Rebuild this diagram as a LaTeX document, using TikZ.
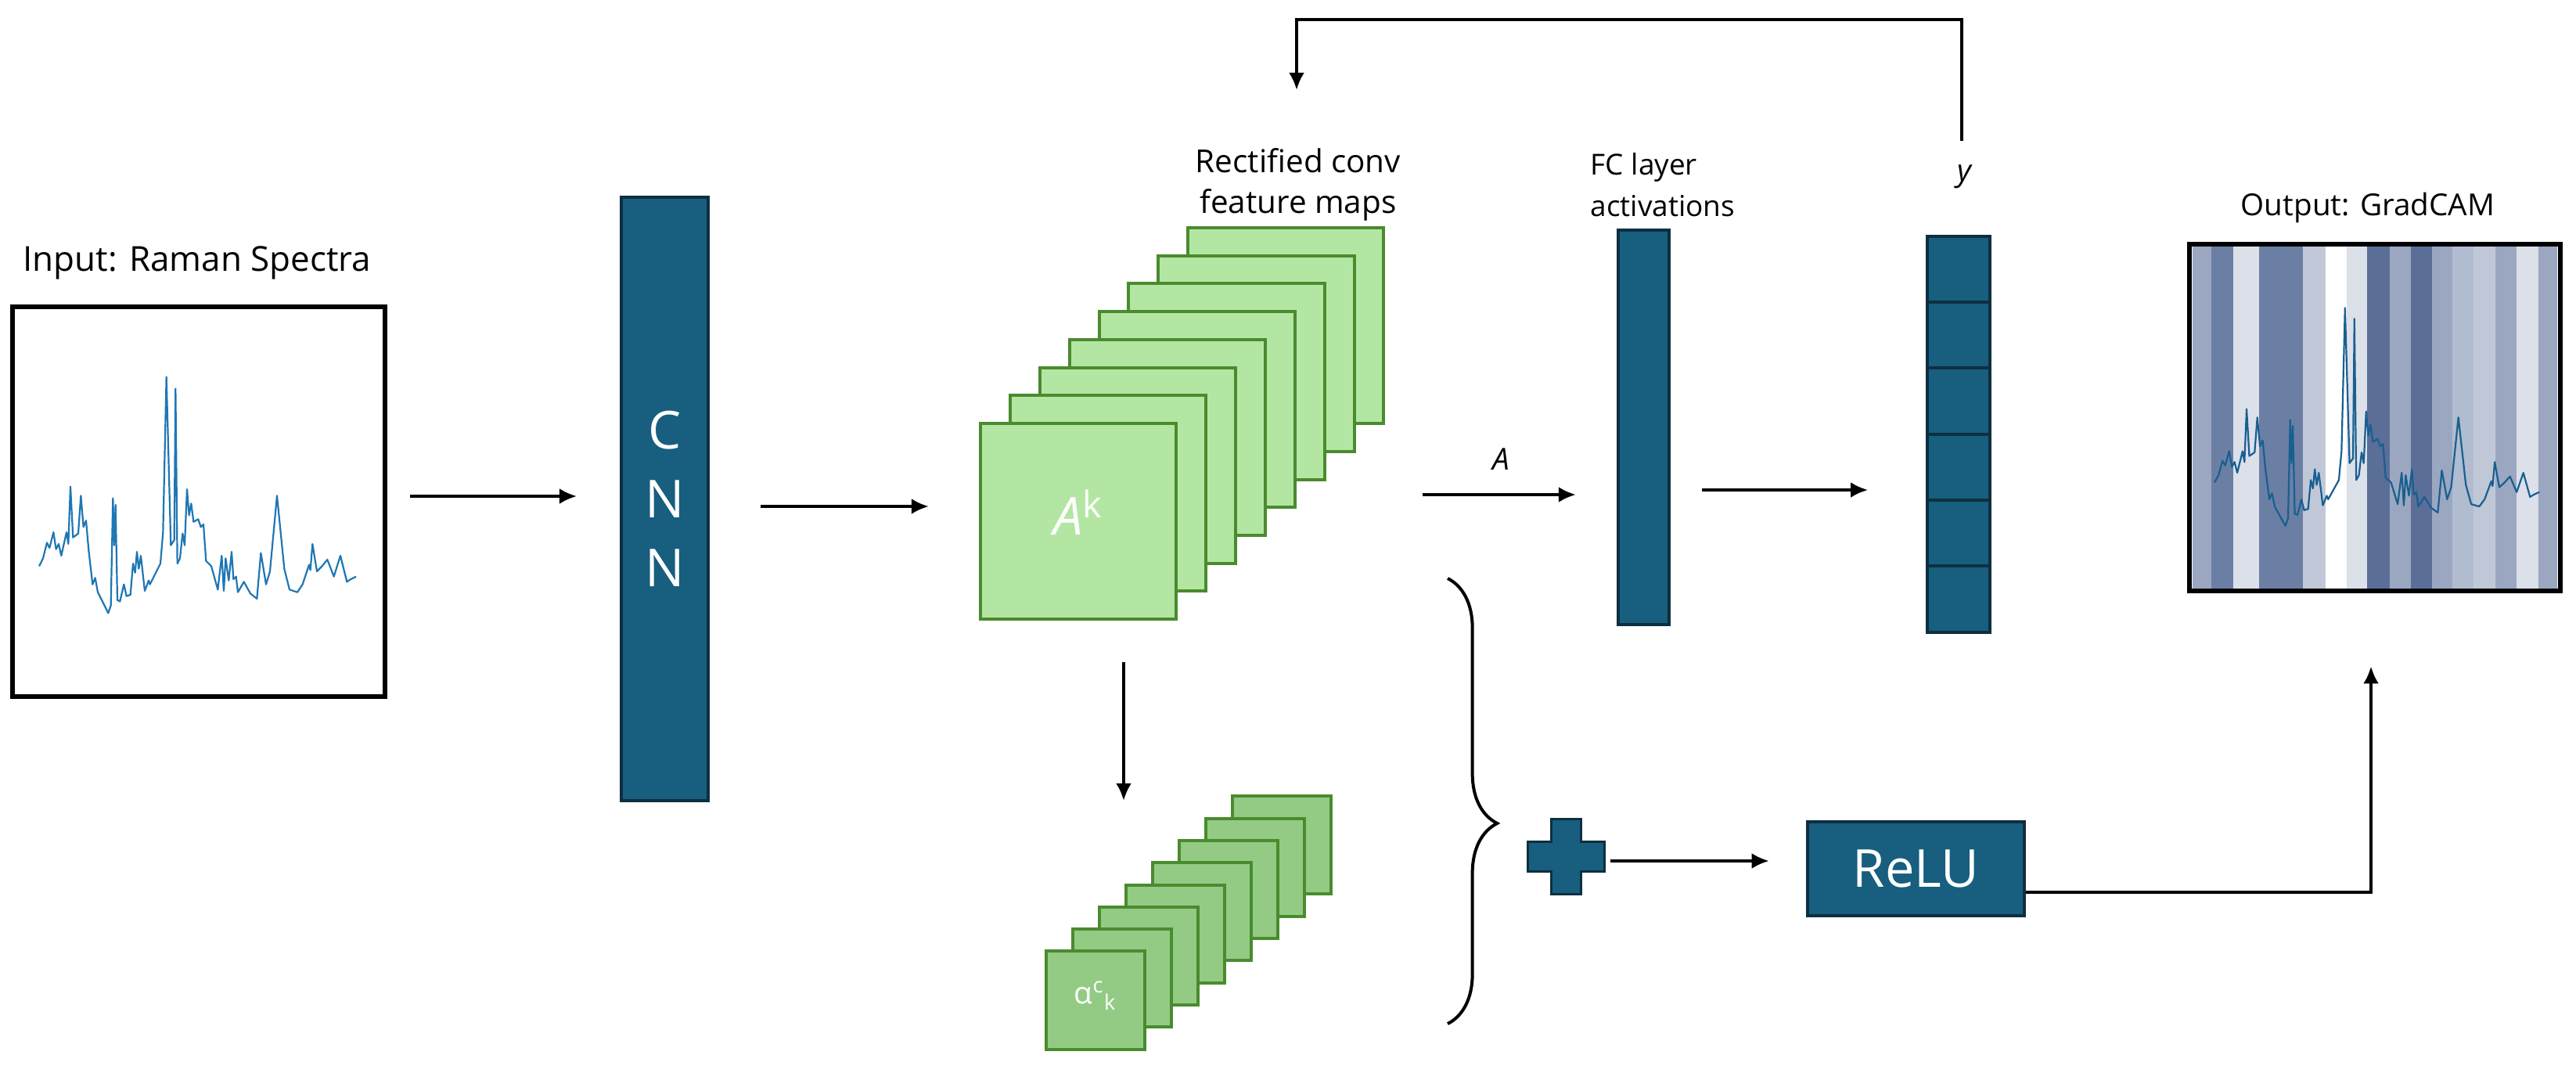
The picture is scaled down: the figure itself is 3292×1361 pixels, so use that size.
\documentclass[tikz,border=0pt]{standalone}
\usepackage{fontspec}
\setmainfont{Open Sans}
\usetikzlibrary{arrows.meta,decorations.pathreplacing}
\definecolor{teal}{HTML}{175E7F}
\definecolor{tealdk}{HTML}{0E2F40}
\definecolor{lg}{HTML}{B3E6A3}
\definecolor{mg}{HTML}{93CB85}
\definecolor{gb}{HTML}{4A8B2E}
\definecolor{spec}{HTML}{1F77B4}
\def\pxu{*0.28453pt}
\begin{document}
\begin{tikzpicture}[x=0.01cm,y=-0.01cm,
  arr/.style={line width=1.15pt,-{Latex[length=6.3pt,width=5.7pt]}},
  bar/.style={draw=tealdk,fill=teal,line width=4\pxu,inner sep=0},
  fmap/.style={draw=gb,fill=lg,line width=4\pxu,minimum width=250\pxu,minimum height=250\pxu,inner sep=0},
  amap/.style={draw=gb,fill=mg,line width=4\pxu,minimum width=125\pxu,minimum height=125\pxu,inner sep=0},
  lbl/.style={font=\fontsize{10}{13}\selectfont,align=center},
  frame/.style={draw=black,line width=6\pxu,inner sep=0},
  specline/.style={line width=2.2\pxu,line join=round}]
\useasboundingbox[fill=white] (0,0) rectangle (3292,1361);
\def\spectrum{(150,1030)--(165,1000)--(180,940)--(190,960)--(205,900)--(215,965)--(225,945)--(235,990)--(255,900)--(262,945)--(270,725)--(280,920)--(300,905)--(310,760)--(320,880)--(330,855)--(340,970)--(355,1100)--(365,1075)--(375,1130)--(395,1170)--(415,1210)--(425,1180)--(433,770)--(438,950)--(443,795)--(450,1160)--(460,1165)--(475,1100)--(485,1145)--(500,1140)--(510,1020)--(518,1055)--(525,975)--(532,1040)--(540,990)--(555,1125)--(570,1085)--(575,1100)--(600,1050)--(615,1020)--(625,900)--(638,305)--(655,950)--(668,930)--(673,350)--(680,1020)--(690,1000)--(700,905)--(708,950)--(717,735)--(725,835)--(733,790)--(742,860)--(760,850)--(770,880)--(780,870)--(790,1010)--(810,1030)--(835,1120)--(850,990)--(858,1125)--(865,1000)--(877,1085)--(888,975)--(895,1080)--(905,1070)--(912,1130)--(935,1090)--(960,1135)--(985,1155)--(1000,980)--(1020,1100)--(1035,1050)--(1062,760)--(1090,1040)--(1110,1120)--(1140,1130)--(1160,1100)--(1185,1025)--(1190,1045)--(1198,945)--(1215,1050)--(1235,1030)--(1255,1005)--(1280,1070)--(1305,990)--(1320,1050)--(1330,1090)--(1345,1080)--(1365,1070)}
% input
\node[frame,minimum width=476\pxu,minimum height=497\pxu] (in) at (254,641) {};
\begin{scope}[shift={(0,380)},scale=1/3]
\draw[spec,specline] \spectrum;
\end{scope}
\node[lbl,font=\fontsize{12.5}{15}\selectfont] (inl) at (252,336) {Input: Raman Spectra};
% CNN
\node[bar,minimum width=111\pxu,minimum height=771\pxu] (cnn) at (849.5,637.5) {};
\foreach \t/\yy in {C/550,N/638,N/726} \node[text=white,font=\fontsize{19}{19}\selectfont] at (849.5,\yy) {\t};
% feature maps
\foreach \i in {7,...,1} \node[fmap] (m\i) at ({1378+37.9*\i},{666-35.7*\i}) {};
\node[fmap] (maps) at (1378,666) {};
\node[text=white,font=\fontsize{19}{19}\selectfont] at (1378,655) {{\itshape A}\textsuperscript{k}};
\node[lbl,font=\fontsize{11.5}{15}\selectfont] at (1659,236) {Rectified conv\\feature maps};
% alpha maps
\foreach \i in {7,...,1} \node[amap] (a\i) at ({1400+34*\i},{1278-28.3*\i}) {};
\node[amap] (alpha) at (1400,1278) {};
\node[text=white,font=\fontsize{11}{11}\selectfont] at (1400,1272) {α\textsuperscript{c}\textsubscript{k}};
% FC
\node[bar,minimum width=65\pxu,minimum height=504\pxu] (fc) at (2100.5,546) {};
\node[lbl,align=left,font=\fontsize{10.5}{15}\selectfont] at (2125,236) {FC layer\\activations};
% y vector
\foreach \j in {0,...,5} \node[bar,minimum width=80\pxu,minimum height=84.3\pxu] (y\j) at (2503,{344+84.3*\j}) {};
\coordinate (ytop) at (2507,180);
\node[font=\fontsize{11}{11}\itshape] at (2510,226) {y};
% output
\node[frame,minimum width=474\pxu,minimum height=443\pxu] (out) at (3035,533.5) {};
\foreach \a/\b/\c in {2801.7/2826/9BA7C1,2826/2854/6B7FA5,2854/2886.7/DCE0E9,2886.7/2942.7/6B7FA5,2942.7/2971.7/C0C8D8,2971.7/2999/FFFFFF,2999/3025/DCE0E9,3025/3054/5A6E98,3054/3081/9BA7C1,3081/3108.3/5A6E98,3108.3/3134/9BA7C1,3134/3160.7/B1BCD0,3160.7/3189.3/C0C8D8,3189.3/3216/9BA7C1,3216/3244/DCE0E9,3244/3268.3/9BA7C1}
  {\definecolor{st}{HTML}{\c}\fill[st] (\a,313) rectangle (\b,752);}
\draw[black,line width=6\pxu] (2798,312) rectangle (3272,755);
\begin{scope}[shift={(2778.75,299.5)},xscale=0.3417,yscale=0.3077]
\draw[spec!80!black,specline] \spectrum;
\end{scope}
\node[lbl,font=\fontsize{11}{13}\selectfont] at (3026,265) {Output: GradCAM};
% plus and relu
\draw[tealdk,fill=teal,line width=3\pxu] (1982,1046)--(2020,1046)--(2020,1075)--(2050,1075)--(2050,1113)--(2020,1113)--(2020,1142)--(1982,1142)--(1982,1113)--(1952,1113)--(1952,1075)--(1982,1075)--cycle;
\coordinate (plus) at (2001,1094);
\node[bar,minimum width=277\pxu,minimum height=120\pxu,text=white,font=\fontsize{19}{19}\selectfont] (relu) at (2448.5,1110) {ReLU};
% brace
\draw[line width=4\pxu,decorate,decoration={brace,amplitude=18pt,aspect=0.55}] (1850,739) -- (1850,1308);
% arrows
\draw[arr,shorten <=8.3pt,shorten >=15.6pt] (in.east |- 0,634) -- (cnn.west |- 0,634);
\draw[arr,shorten <=18.5pt,shorten >=18.2pt] (cnn.east |- 0,647) -- (maps.west |- 0,647);
\draw[arr,shorten <=13.4pt,shorten >=14.8pt] (m7.east |- 0,632) -- node[above=5pt,font=\fontsize{11}{11}\itshape]{A} (fc.west |- 0,632);
\draw[arr,shorten <=11.4pt,shorten >=21pt] (fc.east |- 0,626) -- (y2.west |- 0,626);
\coordinate (fbtop) at (1657,25);
\coordinate (fbend) at (1657,115);
\draw[arr] (ytop) |- (fbtop) -- (fbend);
\coordinate (as) at (1436,846);
\coordinate (ae) at (1436,1023);
\draw[arr] (as) -- (ae);
\draw[arr,shorten <=2.3pt,shorten >=13.4pt] (2050,1100) -- (relu.west |- 0,1100);
\draw[arr,shorten >=26.5pt] (relu.east |- 0,1140) -| (out.south -| 3030,0);
\end{tikzpicture}
\end{document}
